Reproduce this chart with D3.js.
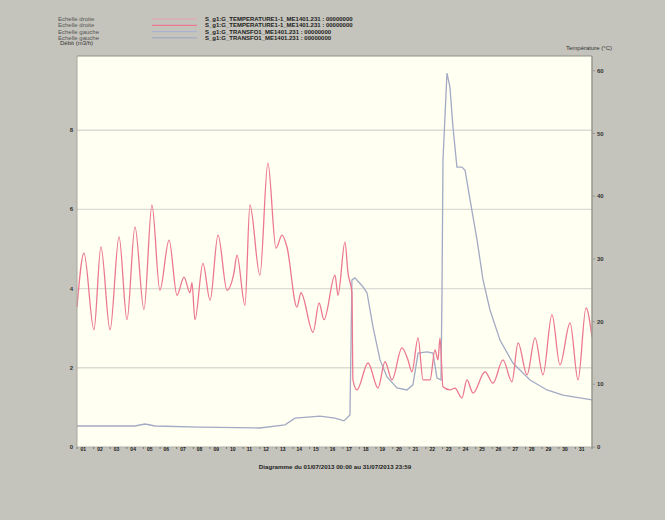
<!DOCTYPE html>
<html><head><meta charset="utf-8">
<script src="https://cdn.jsdelivr.net/npm/d3@7"></script>
<style>html,body{margin:0;padding:0;background:#c4c4bc;}svg{display:block;font-family:"Liberation Sans",Arial,sans-serif;}</style>
</head><body>
<svg id="c" width="665" height="520"></svg>
<script>
// ---- data ----
const legendScales = ["Echelle droite","Echelle droite","Echelle gauche","Echelle gauche"];
const legendNames = ["S_g1:G_TEMPERATURE1-1_ME1401.231 : 00000000","S_g1:G_TEMPERATURE1-1_ME1401.231 : 00000000","S_g1:G_TRANSFO1_ME1401.231 : 00000000","S_g1:G_TRANSFO1_ME1401.231 : 00000000"];
const leftTicks = [0,2,4,6,8];
const rightTicks = [0,10,20,30,40,50,60];
const dayLabels = d3.range(1,32).map(d => String(d).padStart(2,"0"));
// temperature (°C, right scale): time in days since 01/07 00:00
const tempT = [0,0.42,1.02,1.44,1.99,2.53,3.01,3.49,4.03,4.51,4.99,5.54,6.02,6.44,6.80,6.92,7.10,7.58,8.01,8.49,9.03,9.45,9.63,10.11,10.41,11.01,11.49,11.98,12.34,12.64,13.24,13.48,14.21,14.57,14.87,15.53,15.71,16.13,16.31,16.55,16.61,16.85,17.52,18.12,18.54,18.96,19.56,19.92,20.16,20.53,20.83,21.25,21.55,21.73,21.85,22.03,22.45,22.75,23.17,23.47,23.84,24.56,25.04,25.64,26.18,26.55,27.09,27.57,28.05,28.59,29.07,29.68,30.16,30.64,31.0];
const tempV = [22.3,30.9,18.7,31.9,18.7,33.5,20.3,35.1,21.9,38.6,25.0,33.0,24.2,27.1,24.6,26.2,20.3,29.3,23.4,33.8,25.0,27.8,30.6,22.6,38.6,27.4,45.3,31.7,33.8,31.9,22.3,24.6,18.3,23.0,20.3,27.4,24.2,32.7,27.8,24.6,10.7,9.1,13.4,9.4,13.6,10.7,15.8,13.9,12.0,17.4,10.7,10.7,15.5,13.9,17.4,9.6,9.1,9.4,7.8,10.7,8.6,12.0,10.2,13.9,10.4,16.6,11.5,17.4,11.5,21.1,13.1,19.8,10.7,22.2,17.5];
// flow (m3/h, left scale)
const flowT = [0,3.49,4.09,4.7,7.4,11.0,12.52,13.12,14.63,15.53,16.07,16.43,16.55,16.73,17.22,17.46,17.82,18.24,18.66,19.26,19.86,20.22,20.53,21.07,21.43,21.67,21.91,21.97,22.03,22.27,22.45,22.63,22.87,23.17,23.36,23.66,24.08,24.44,24.86,25.46,26.24,27.27,28.29,29.25,31.0];
const flowV = [0.53,0.53,0.58,0.53,0.50,0.48,0.56,0.73,0.78,0.73,0.66,0.81,4.22,4.27,4.04,3.89,3.03,2.20,1.77,1.49,1.44,1.57,2.37,2.40,2.37,1.74,1.69,3.89,7.25,9.44,9.09,8.08,7.07,7.07,6.99,6.24,5.23,4.22,3.46,2.70,2.12,1.69,1.44,1.31,1.19];

// ---- layout ----
const L = 77, R = 592, T = 56, B = 447;
const svg = d3.select("#c");
const x = d3.scaleLinear().domain([0,31]).range([L,R]);
const yL = d3.scaleLinear().domain([0,(B-T)/39.6]).range([B,T]);
const yR = d3.scaleLinear().domain([0,(B-T)/6.27]).range([B,T]);

svg.append("rect").attr("x",L).attr("y",T).attr("width",R-L).attr("height",B-T).attr("fill","#fffff2");
// gridlines
svg.append("g").selectAll("line").data(leftTicks.filter(d=>d>0)).join("line")
  .attr("x1",L).attr("x2",R).attr("y1",d=>yL(d)).attr("y2",d=>yL(d))
  .attr("stroke","#dcdcd4").attr("stroke-width",1.4);

// lines
const lineF = d3.line().x((d,i)=>x(flowT[i])).y(d=>yL(d));
svg.append("path").attr("d",lineF(flowV)).attr("fill","none").attr("stroke","#a2aac4").attr("stroke-width",1.3);
const lineT = d3.line().x((d,i)=>x(tempT[i])).y(d=>yR(d)).curve(d3.curveMonotoneX);
svg.append("path").attr("d",lineT(tempV)).attr("fill","none").attr("stroke","#ec7890").attr("stroke-width",1.3);

// border
svg.append("line").attr("x1",L).attr("x2",L).attr("y1",T).attr("y2",B).attr("stroke","#a8a8a0");
svg.append("line").attr("x1",R).attr("x2",R).attr("y1",T).attr("y2",B).attr("stroke","#98988f").attr("stroke-width",1.5);
svg.append("line").attr("x1",L).attr("x2",R).attr("y1",T).attr("y2",T).attr("stroke","#909088");
svg.append("line").attr("x1",L).attr("x2",R).attr("y1",B).attr("y2",B).attr("stroke","#b0b0a8");

// axes labels
svg.append("g").selectAll("text").data(leftTicks).join("text")
  .attr("x",73).attr("y",d=>yL(d)+2).attr("text-anchor","end").attr("font-size",6).attr("font-weight","bold").attr("fill","#333").text(d=>d);
svg.append("g").selectAll("text").data(rightTicks).join("text")
  .attr("x",597).attr("y",d=>yR(d)+2).attr("font-size",6).attr("font-weight","bold").attr("fill","#333").text(d=>d);
svg.append("g").selectAll("line").data(rightTicks).join("line")
  .attr("x1",R).attr("x2",R+3).attr("y1",d=>yR(d)).attr("y2",d=>yR(d)).attr("stroke","#999");
// x axis day labels
svg.append("g").selectAll("text").data(dayLabels).join("text")
  .attr("x",(d,i)=>x(i+0.38)).attr("y",B+4).attr("text-anchor","middle").attr("font-size",5).attr("font-weight","bold").attr("fill","#222").text(d=>d);
svg.append("g").selectAll("line").data(d3.range(0,32)).join("line")
  .attr("x1",d=>x(d)).attr("x2",d=>x(d)).attr("y1",B).attr("y2",B+2).attr("stroke","#777");

// titles
svg.append("text").attr("x",60).attr("y",45).attr("font-size",6).attr("fill","#333").text("Débit (m3/h)");
svg.append("text").attr("x",566).attr("y",50).attr("font-size",6).attr("fill","#333").text("Température (°C)");
svg.append("text").attr("x",335).attr("y",469).attr("text-anchor","middle").attr("font-size",6.2).attr("font-weight","bold").attr("fill","#222")
  .text("Diagramme du 01/07/2013 00:00 au 31/07/2013 23:59");

// legend
const legColors = ["#eca0b2","#ec7a92","#aab2d2","#a2aac4"];
const lg = svg.append("g");
legendScales.forEach((s,i)=>{
  const yy = 19 + i*6.3;
  lg.append("text").attr("x",58).attr("y",yy+2).attr("font-size",6).attr("fill","#555").text(s);
  lg.append("line").attr("x1",152).attr("x2",197).attr("y1",yy).attr("y2",yy).attr("stroke",legColors[i]).attr("stroke-width",1.2);
  lg.append("text").attr("x",205).attr("y",yy+2).attr("font-size",6).attr("font-weight","bold").attr("fill","#222").text(legendNames[i]);
});
</script>
</body></html>
